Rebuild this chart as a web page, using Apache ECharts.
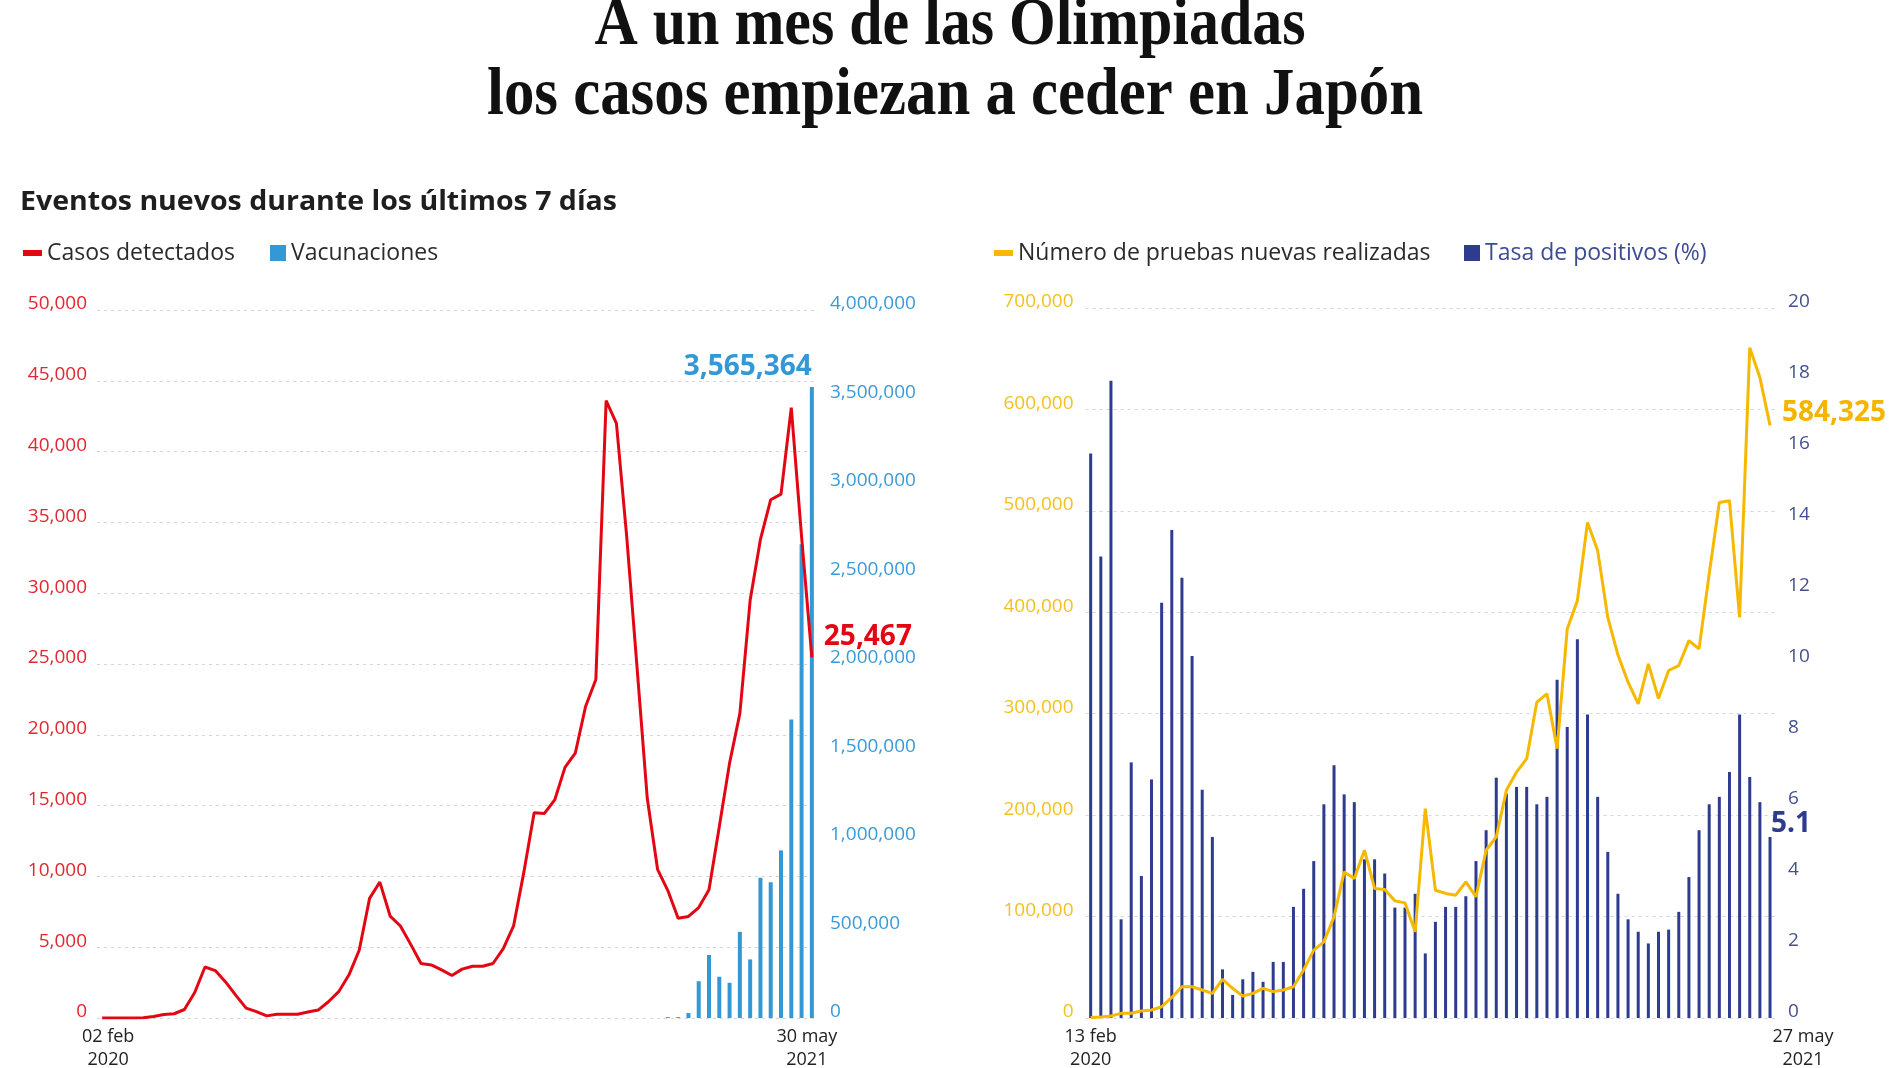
<!DOCTYPE html>
<html><head><meta charset="utf-8">
<script src="https://cdn.jsdelivr.net/npm/echarts@6/dist/echarts.min.js"></script>
<style>html,body{margin:0;padding:0;background:#fff}#c{width:1900px;height:1068px}</style>
</head><body><div id="c"></div>
<script>
// ---------- DATA ----------
const MONTHS = ['ene','feb','mar','abr','may','jun','jul','ago','sep','oct','nov','dic'];
const casesStart = '2020-02-02';
const cases = [0,0,0,0,20,100,250,300,600,1800,3600,3350,2550,1600,700,450,150,260,260,270,420,560,1150,1860,3050,4800,8450,9600,7200,6500,5200,3850,3750,3400,3000,3450,3650,3650,3850,4900,6500,10300,14500,14450,15400,17700,18700,22000,23900,43600,42000,34000,24800,15500,10500,9000,7050,7170,7800,9050,13500,18000,21500,29500,33800,36600,37000,43100,34000,25467];
const vaccStart = '2021-02-21';
const vaccinations = [5000,5000,28000,208000,356000,233000,199000,487000,331000,792000,767000,947000,1686000,2676000,3565364];
const testsStart = '2020-02-13';
const tests = [500,1000,2000,4600,4600,6900,7900,11100,20300,30800,30800,27600,24300,38100,29200,21700,24300,29200,26000,27600,30800,47300,66900,75100,99700,144000,137500,165400,127700,126700,115500,113500,85000,206400,126000,122800,121100,134200,119500,165400,178500,224500,242500,255700,311400,319600,265500,383600,411500,488600,460800,395000,358000,331100,309800,349200,315000,342600,347500,372100,363900,437800,508300,510000,395100,660900,631400,584325];
const positivity = [15.9,13.0,17.95,2.78,7.2,4.0,6.72,11.7,13.75,12.4,10.2,6.43,5.1,1.37,0.65,1.09,1.3,1.02,1.58,1.58,3.13,3.64,4.42,6.02,7.12,6.3,6.08,4.47,4.47,4.07,3.11,3.11,3.5,1.82,2.71,3.13,3.13,3.43,4.42,5.29,6.77,6.32,6.51,6.51,6.02,6.23,9.53,8.2,10.67,8.55,6.23,4.68,3.5,2.78,2.43,2.1,2.43,2.49,2.99,3.97,5.29,6.02,6.23,6.93,8.55,6.79,6.08,5.1];
const casesTicks = {min:0, max:50000, interval:5000};
const vaccTicks = {min:0, max:4000000, interval:500000};
const testsTicks = {min:0, max:700000, interval:100000};
const posTicks = {min:0, max:20, interval:2};

// ---------- HELPERS ----------
function weeklyDates(start, n){
  const out=[]; const t0=new Date(start+'T00:00:00Z').getTime();
  for(let i=0;i<n;i++){ out.push(new Date(t0+i*7*86400000).toISOString().slice(0,10)); }
  return out;
}
const casesDates = weeklyDates(casesStart, cases.length);
const vaccDates = weeklyDates(vaccStart, vaccinations.length);
const testsDates = weeklyDates(testsStart, tests.length);
const fmt = v => Number(v).toLocaleString('en-US');
function dateText(s){ const p=s.split('-'); return p[2]+' '+MONTHS[+p[1]-1]+'\n'+p[0]; }
function fitScale(text, font, target){
  const c=document.createElement('canvas').getContext('2d'); c.font=font;
  return target / c.measureText(text).width;
}

const vaccSeries = casesDates.map(d => {
  const k = vaccDates.indexOf(d);
  if (k < 0) return '-';
  if (k === vaccinations.length-1) return {value: vaccinations[k], label:{show:true, position:'top', align:'right', distance:6,
     formatter: p=>fmt(p.value), fontSize:28, fontWeight:'bold', color:'#3399d6', fontFamily:'Open Sans'}};
  return vaccinations[k];
});
const posSeries = positivity.map((v,i)=> i===positivity.length-1 ?
  {value:v, label:{show:true, position:'top', align:'left', distance:2, offset:[1,3], formatter: p=>String(p.value),
   fontSize:28, fontWeight:'bold', color:'#2d3c8e', fontFamily:'Open Sans'}} : v);

const FONT = 'Open Sans';
const TITLE_FONT = 'bold 68px "Liberation Serif"';
const t1 = 'A un mes de las Olimpiadas', t2 = 'los casos empiezan a ceder en Japón';
const sub = 'Eventos nuevos durante los últimos 7 días';
const SUB_FONT = 'bold 26px "Open Sans"';

function xLabel(last, padFirst, padLast){
  return {
    interval: (i)=> i===0 || i===last,
    margin: 7, color:'#222', fontSize:18, fontFamily:FONT, lineHeight:23,
    formatter: (v, i) => i===0 ? '{a|'+dateText(v)+'}' : '{b|'+dateText(v)+'}',
    rich: {
      a:{fontSize:18, lineHeight:23, color:'#222', fontFamily:FONT, padding:padFirst},
      b:{fontSize:18, lineHeight:23, color:'#222', fontFamily:FONT, padding:padLast}
    }
  };
}
const splitDash = {show:true, lineStyle:{color:'#d6d6d6', type:[3,4], width:1}};
function yLabel(color, margin){
  return {color, margin, fontSize:19, fontFamily:FONT, verticalAlign:'bottom', lineHeight:12, formatter: v=>fmt(v)};
}
const legendText = (c)=>({fontSize:23, lineHeight:26, color:c, fontFamily:FONT});

const chart = echarts.init(document.getElementById('c'), null, {renderer:'canvas'});
chart.setOption({
  animation:false,
  backgroundColor:'#ffffff',
  graphic:[
    {type:'text', x:950, y:26, scaleX: fitScale(t1, TITLE_FONT, 711), style:{text:t1, font:TITLE_FONT, fill:'#111', align:'center', verticalAlign:'middle'}},
    {type:'text', x:955, y:96, scaleX: fitScale(t2, TITLE_FONT, 936), style:{text:t2, font:TITLE_FONT, fill:'#111', align:'center', verticalAlign:'middle'}},
    {type:'text', x:20, y:203, scaleX: fitScale(sub, SUB_FONT, 597), style:{text:sub, font:SUB_FONT, fill:'#1e1e1e', align:'left', verticalAlign:'middle'}}
  ],
  legend:[
    {data:[{name:'Casos detectados', icon:'rect'}], left:23, top:240, itemWidth:19, itemHeight:6, padding:0, selectedMode:false, textStyle:legendText('#2b2b2b')},
    {data:[{name:'Vacunaciones', icon:'rect'}], left:270, top:240, itemWidth:16, itemHeight:16, padding:0, selectedMode:false, textStyle:legendText('#2b2b2b')},
    {data:[{name:'Número de pruebas nuevas realizadas', icon:'rect'}], left:994, top:240, itemWidth:19, itemHeight:6, padding:0, selectedMode:false, textStyle:legendText('#2b2b2b')},
    {data:[{name:'Tasa de positivos (%)', icon:'rect'}], left:1464, top:240, itemWidth:16, itemHeight:16, padding:0, selectedMode:false, textStyle:legendText('#3d4b96')}
  ],
  grid:[
    {left:97, top:310, width:720, height:708, outerBoundsMode:'none', containLabel:false},
    {left:1085.6, top:308, width:689.5, height:710, outerBoundsMode:'none', containLabel:false}
  ],
  xAxis:[
    {type:'category', gridIndex:0, data:casesDates, boundaryGap:true, axisLine:{show:false}, axisTick:{show:false},
     axisLabel: xLabel(casesDates.length-1, [0,0,0,12], [0,10,0,0])},
    {type:'category', gridIndex:1, data:testsDates, boundaryGap:true, axisLine:{show:false}, axisTick:{show:false},
     axisLabel: xLabel(testsDates.length-1, [0,0,0,0], [0,0,0,66])}
  ],
  yAxis:[
    {type:'value', gridIndex:0, position:'left', ...casesTicks, axisLine:{show:false}, axisTick:{show:false}, splitLine:splitDash, axisLabel:yLabel('#e4262f',10)},
    {type:'value', gridIndex:0, position:'right', ...vaccTicks, axisLine:{show:false}, axisTick:{show:false}, splitLine:{show:false}, axisLabel:yLabel('#3a9ad9',13)},
    {type:'value', gridIndex:1, position:'left', ...testsTicks, axisLine:{show:false}, axisTick:{show:false}, splitLine:splitDash, axisLabel:yLabel('#f3c11f',12)},
    {type:'value', gridIndex:1, position:'right', ...posTicks, axisLine:{show:false}, axisTick:{show:false}, splitLine:{show:false}, axisLabel:yLabel('#44508f',13)}
  ],
  series:[
    {name:'Vacunaciones', type:'bar', xAxisIndex:0, yAxisIndex:1, data:vaccSeries, barWidth:4, itemStyle:{color:'#3399d6'}},
    {name:'Casos detectados', type:'line', xAxisIndex:0, yAxisIndex:0, data:cases, showSymbol:false, symbol:'none',
     lineStyle:{color:'#e30613', width:3}, itemStyle:{color:'#e30613'},
     endLabel:{show:true, distance:12, offset:[0,-20], formatter:p=>fmt(p.value), fontSize:28, fontWeight:'bold', color:'#e30613', fontFamily:FONT}},
    {name:'Tasa de positivos (%)', type:'bar', xAxisIndex:1, yAxisIndex:3, data:posSeries, barWidth:3, itemStyle:{color:'#2d3c8e'}},
    {name:'Número de pruebas nuevas realizadas', type:'line', xAxisIndex:1, yAxisIndex:2, data:tests, showSymbol:false, symbol:'none',
     lineStyle:{color:'#f6b800', width:3}, itemStyle:{color:'#f6b800'},
     endLabel:{show:true, distance:12, offset:[0,-12], formatter:p=>fmt(p.value), fontSize:28, fontWeight:'bold', color:'#f5b400', fontFamily:FONT}}
  ]
});
</script>
</body></html>
